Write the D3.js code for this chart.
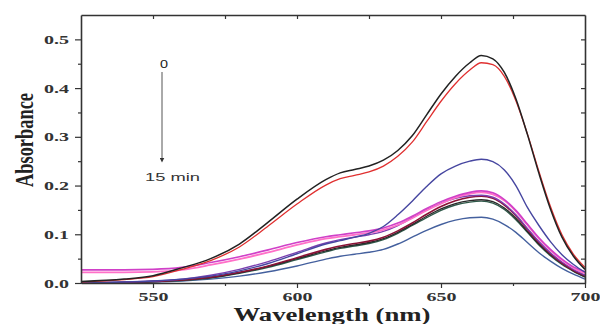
<!DOCTYPE html>
<html>
<head>
<meta charset="utf-8">
<script src="https://cdn.jsdelivr.net/npm/d3@7"></script>
<style>
  body { margin: 0; background: #fff; }
  svg { display: block; }
</style>
</head>
<body>
<div id="chart"></div>
<script>
// wavelengths (nm) shared by every spectrum
const wavelengths = [525, 540, 550, 560, 570, 580, 590, 600, 610, 615, 620, 625, 630, 635, 640, 645, 650, 655, 660, 664, 668, 672, 676, 680, 684, 688, 692, 696, 700];

const absT0 = [0.003, 0.008, 0.015, 0.031, 0.05, 0.08, 0.125, 0.172, 0.212, 0.226, 0.233, 0.240, 0.252, 0.272, 0.302, 0.345, 0.388, 0.424, 0.452, 0.467, 0.460, 0.432, 0.378, 0.305, 0.225, 0.152, 0.094, 0.055, 0.028];
const absT1 = [0.002, 0.007, 0.013, 0.028, 0.046, 0.074, 0.117, 0.162, 0.201, 0.214, 0.221, 0.228, 0.240, 0.260, 0.289, 0.331, 0.373, 0.409, 0.437, 0.452, 0.448, 0.424, 0.374, 0.306, 0.229, 0.157, 0.099, 0.059, 0.032];
const absT2 = [0.0, 0.002, 0.004, 0.008, 0.014, 0.025, 0.04, 0.06, 0.08, 0.087, 0.094, 0.102, 0.116, 0.14, 0.168, 0.198, 0.224, 0.240, 0.25, 0.254, 0.249, 0.232, 0.2, 0.155, 0.118, 0.085, 0.058, 0.038, 0.022];
const absMagenta = [0.027, 0.027, 0.028, 0.032, 0.042, 0.054, 0.068, 0.083, 0.095, 0.099, 0.103, 0.107, 0.113, 0.123, 0.137, 0.153, 0.167, 0.178, 0.186, 0.189, 0.185, 0.171, 0.149, 0.121, 0.093, 0.069, 0.049, 0.033, 0.023];
const absPink = [0.022, 0.022, 0.023, 0.027, 0.037, 0.049, 0.063, 0.078, 0.091, 0.095, 0.099, 0.103, 0.109, 0.119, 0.133, 0.149, 0.163, 0.175, 0.183, 0.186, 0.182, 0.169, 0.147, 0.119, 0.091, 0.067, 0.047, 0.031, 0.02];
const absPurple = [0.001, 0.002, 0.004, 0.008, 0.016, 0.028, 0.044, 0.063, 0.082, 0.089, 0.094, 0.099, 0.106, 0.118, 0.134, 0.150, 0.164, 0.174, 0.179, 0.18, 0.176, 0.162, 0.14, 0.112, 0.085, 0.062, 0.043, 0.028, 0.016];
const absDarkRed = [0.0, 0.001, 0.003, 0.006, 0.012, 0.022, 0.035, 0.052, 0.069, 0.076, 0.081, 0.086, 0.094, 0.107, 0.123, 0.141, 0.157, 0.169, 0.176, 0.178, 0.174, 0.16, 0.138, 0.11, 0.083, 0.06, 0.041, 0.026, 0.015];
const absBlack2 = [0.0, 0.001, 0.003, 0.006, 0.011, 0.021, 0.034, 0.05, 0.066, 0.073, 0.078, 0.083, 0.091, 0.104, 0.12, 0.137, 0.152, 0.163, 0.169, 0.171, 0.167, 0.154, 0.133, 0.106, 0.08, 0.058, 0.04, 0.025, 0.013];
const absGreen = [0.0, 0.001, 0.003, 0.005, 0.01, 0.02, 0.032, 0.048, 0.064, 0.071, 0.076, 0.081, 0.089, 0.102, 0.118, 0.134, 0.149, 0.16, 0.166, 0.168, 0.164, 0.151, 0.13, 0.104, 0.078, 0.056, 0.038, 0.024, 0.012];
const absT15 = [0.0, 0.001, 0.002, 0.004, 0.008, 0.014, 0.023, 0.035, 0.049, 0.055, 0.059, 0.063, 0.069, 0.08, 0.094, 0.108, 0.12, 0.129, 0.134, 0.135, 0.131, 0.12, 0.104, 0.083, 0.062, 0.045, 0.03, 0.018, 0.008];

const xTicks = [550, 600, 650, 700];
const yTicks = [0.0, 0.1, 0.2, 0.3, 0.4, 0.5];

// drawn bottom to top
const series = [
  {values: absT15, color: '#44609e', w: 1.4},
  {values: absGreen, color: '#2f5a4a', w: 1.4},
  {values: absBlack2, color: '#2a2a2a', w: 1.4},
  {values: absDarkRed, color: '#8a1236', w: 1.6},
  {values: absPurple, color: '#7a3fb0', w: 1.4},
  {values: absPink, color: '#ff70c8', w: 1.8},
  {values: absMagenta, color: '#d040c8', w: 1.6},
  {values: absT2, color: '#4646a0', w: 1.4},
  {values: absT1, color: '#e03030', w: 1.3},
  {values: absT0, color: '#222222', w: 1.5}
];

const width = 600, height = 324;
const margin = {top: 15, right: 15, bottom: 41, left: 81};
const innerW = width - margin.left - margin.right;
const innerH = height - margin.top - margin.bottom;

const svg = d3.select('#chart').append('svg')
  .attr('width', width)
  .attr('height', height);

const x = d3.scaleLinear().domain([525, 700]).range([margin.left, margin.left + innerW]);
const y = d3.scaleLinear().domain([0, 0.55]).range([margin.top + innerH, margin.top]);

// curves
const line = d3.line()
  .x((d, i) => x(wavelengths[i]))
  .y(d => y(d))
  .curve(d3.curveMonotoneX);

svg.append('g')
  .selectAll('path')
  .data(series)
  .join('path')
  .attr('fill', 'none')
  .attr('stroke', d => d.color)
  .attr('stroke-width', d => d.w)
  .attr('d', d => line(d.values));

const axisColor = '#333';
const labelFont = '"Liberation Serif", "DejaVu Serif", serif';

// bottom axis
const xAxis = svg.append('g')
  .attr('transform', `translate(0,${margin.top + innerH})`)
  .call(d3.axisBottom(x).tickValues(xTicks).tickSize(5).tickSizeOuter(0).tickFormat(d3.format('d')));
svg.append('g')
  .attr('transform', `translate(0,${margin.top + innerH})`)
  .call(d3.axisBottom(x).tickValues([575, 625, 675]).tickSize(3).tickFormat(''))
  .call(g => g.select('.domain').remove());

// left axis
const yAxis = svg.append('g')
  .attr('transform', `translate(${margin.left},0)`)
  .call(d3.axisLeft(y).tickValues(yTicks).tickSize(6).tickSizeOuter(0).tickFormat(d3.format('.1f')));
svg.append('g')
  .attr('transform', `translate(${margin.left},0)`)
  .call(d3.axisLeft(y).tickValues([0.05, 0.15, 0.25, 0.35, 0.45]).tickSize(3).tickFormat(''))
  .call(g => g.select('.domain').remove());

// top and right, ticks pointing inward
svg.append('g')
  .attr('transform', `translate(0,${margin.top})`)
  .call(d3.axisBottom(x).tickValues([550, 575, 600, 625, 650, 675]).tickSize(4).tickSizeOuter(0).tickFormat(''));
svg.append('g')
  .attr('transform', `translate(${margin.left + innerW},0)`)
  .call(d3.axisLeft(y).tickValues([0.05, 0.1, 0.15, 0.2, 0.25, 0.3, 0.35, 0.4, 0.45, 0.5]).tickSize(4).tickSizeOuter(0).tickFormat(''));

svg.selectAll('.domain').attr('stroke', axisColor).attr('stroke-width', 1.6);
svg.selectAll('.tick line').attr('stroke', axisColor).attr('stroke-width', 1.2);

xAxis.selectAll('.tick text')
  .attr('font-family', labelFont)
  .attr('font-weight', 'bold')
  .attr('font-size', 13)
  .attr('fill', '#333')
  .attr('y', 9)
  .attr('textLength', 30)
  .attr('lengthAdjust', 'spacingAndGlyphs');

yAxis.selectAll('.tick text')
  .attr('font-family', labelFont)
  .attr('font-weight', 'bold')
  .attr('font-size', 13)
  .attr('fill', '#333')
  .attr('x', -12)
  .attr('textLength', 25)
  .attr('lengthAdjust', 'spacingAndGlyphs');

// axis titles
svg.append('text')
  .attr('x', 332)
  .attr('y', 321)
  .attr('text-anchor', 'middle')
  .attr('font-family', labelFont)
  .attr('font-weight', 'bold')
  .attr('font-size', 18)
  .attr('fill', '#222')
  .attr('textLength', 197)
  .attr('lengthAdjust', 'spacingAndGlyphs')
  .text('Wavelength (nm)');

svg.append('text')
  .attr('transform', 'translate(33,140) rotate(-90)')
  .attr('text-anchor', 'middle')
  .attr('font-family', labelFont)
  .attr('font-weight', 'bold')
  .attr('font-size', 26)
  .attr('fill', '#222')
  .attr('textLength', 94)
  .attr('lengthAdjust', 'spacingAndGlyphs')
  .text('Absorbance');

// time arrow annotation
const arrowX = 162;
svg.append('defs').append('marker')
  .attr('id', 'arrow')
  .attr('viewBox', '0 0 10 10')
  .attr('refX', 5).attr('refY', 5)
  .attr('markerWidth', 5).attr('markerHeight', 5)
  .attr('orient', 'auto')
  .append('path')
  .attr('d', 'M0,0L10,5L0,10z')
  .attr('fill', '#333');

svg.append('line')
  .attr('x1', arrowX).attr('x2', arrowX)
  .attr('y1', 72).attr('y2', 160)
  .attr('stroke', '#555')
  .attr('stroke-width', 1)
  .attr('marker-end', 'url(#arrow)');

svg.append('text')
  .attr('x', arrowX - 2)
  .attr('y', 68)
  .attr('font-family', '"Liberation Sans", Arial, sans-serif')
  .attr('font-size', 10)
  .attr('fill', '#222')
  .attr('textLength', 8)
  .attr('lengthAdjust', 'spacingAndGlyphs')
  .text('0');

svg.append('text')
  .attr('x', 145)
  .attr('y', 181)
  .attr('font-family', '"Liberation Sans", Arial, sans-serif')
  .attr('font-size', 11)
  .attr('fill', '#333')
  .attr('textLength', 55)
  .attr('lengthAdjust', 'spacingAndGlyphs')
  .text('15 min');
</script>
</body>
</html>
